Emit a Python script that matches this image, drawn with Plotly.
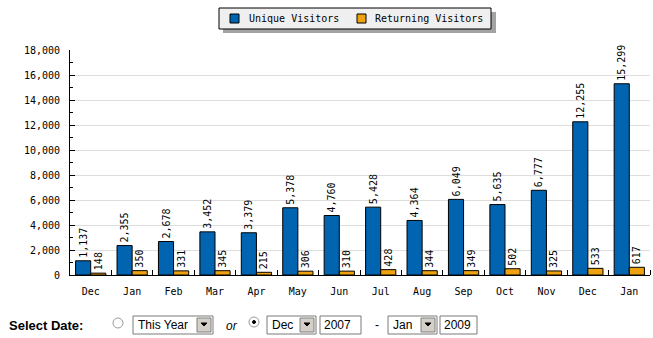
import plotly.graph_objects as go

months = ["Dec", "Jan", "Feb", "Mar", "Apr", "May", "Jun", "Jul", "Aug", "Sep", "Oct", "Nov", "Dec", "Jan"]
unique_visitors = [1137, 2355, 2678, 3452, 3379, 5378, 4760, 5428, 4364, 6049, 5635, 6777, 12255, 15299]
returning_visitors = [148, 350, 331, 345, 215, 306, 310, 428, 344, 349, 502, 325, 533, 617]
y_ticks = list(range(0, 18001, 2000))

W, H = 653, 338
ML, MR, MT, MB = 70, 3, 50, 63
PW, PH = W - ML - MR, H - MT - MB

def px(x):
    return (x - ML) / PW

def py(y):
    return (H - MB - y) / PH

MONO = "DejaVu Sans Mono"
UI = "Liberation Sans"
BLUE = "#0064b0"
ORANGE = "#eea20f"

xs = list(range(len(months)))

series = [("Unique Visitors", unique_visitors, BLUE), ("Returning Visitors", returning_visitors, ORANGE)]

fig = go.Figure()
for name, vals, col in series:
    fig.add_trace(go.Bar(
        x=xs, y=vals, name=name,
        marker=dict(color=col, line=dict(color="#000000", width=1)),
        text=[f"{v:,}" for v in vals], textposition="outside",
        textangle=-90, constraintext="none", cliponaxis=False,
        textfont=dict(family=MONO, size=10, color="#000000"),
        showlegend=False,
    ))

shapes = []
annotations = []

def rect(x0, y0, x1, y1, fill, line_color=None, lw=1):
    shapes.append(dict(type="rect", xref="paper", yref="paper", x0=px(x0), x1=px(x1),
                       y0=py(y1), y1=py(y0), fillcolor=fill,
                       line=dict(color=line_color or fill, width=lw if line_color else 0),
                       layer="above"))

def label(x, y, text, family, size, anchor="left"):
    annotations.append(dict(xref="paper", yref="paper", x=px(x), y=py(y), text=text,
                            showarrow=False, xanchor=anchor, yanchor="middle",
                            font=dict(family=family, size=size, color="#000000")))

# manual legend (box, shadow, swatches, names)
rect(223, 12, 496, 33, "#a3a3a3")
rect(219, 8, 491, 29, "#efefef", "#000000")
leg_pos = [(230, 247), (357, 373)]
for (sx, tx), (name, _, col) in zip(leg_pos, series):
    rect(sx, 14, sx + 9, 23, col, "#000000")
    label(tx, 18.5, name, MONO, 10)

def select_box(x0, x1, text):
    y0, y1 = 316, 334
    rect(x0, y0, x1, y1, "#ffffff", "#7a7a7a")
    bx0, bx1 = x1 - 16, x1 - 2
    rect(bx0, y0 + 2, bx1, y1 - 2, "#d4d0c8", "#808080")
    cx = (bx0 + bx1) / 2
    shapes.append(dict(type="path", xref="paper", yref="paper",
                       path=f"M {px(cx-3)} {py(323)} L {px(cx+3)} {py(323)} L {px(cx)} {py(326)} Z",
                       fillcolor="#000000", line=dict(color="#000000", width=1), layer="above"))
    label(x0 + 3, 325, text, UI, 12)

def text_box(x0, x1, text):
    rect(x0, 316, x1, 334, "#ffffff", "#7a7a7a")
    label(x0 + 2, 325, text, UI, 12)

def radio(cx, cy, checked):
    r = 5
    shapes.append(dict(type="circle", xref="paper", yref="paper",
                       x0=px(cx - r), x1=px(cx + r), y0=py(cy + r), y1=py(cy - r),
                       fillcolor="#ffffff", line=dict(color="#9a9a9a", width=1), layer="above"))
    if checked:
        shapes.append(dict(type="circle", xref="paper", yref="paper",
                           x0=px(cx - 1.5), x1=px(cx + 1.5), y0=py(cy + 1.5), y1=py(cy - 1.5),
                           fillcolor="#000000", line=dict(color="#000000", width=1), layer="above"))

label(7, 325, "<b>Select Date:</b>", UI, 13)
radio(118, 323, False)
select_box(133, 213, "This Year")
label(224, 326, "<i>or</i>", UI, 12)
radio(254, 322, True)
select_box(267, 316, "Dec")
text_box(320, 361, "2007")
label(377, 325, "-", UI, 12, "center")
select_box(388, 437, "Jan")
text_box(440, 477, "2009")

fig.update_layout(
    width=W, height=H,
    margin=dict(l=ML, r=MR, t=MT, b=MB, pad=0),
    paper_bgcolor="#ffffff", plot_bgcolor="#ffffff",
    barmode="group", bargap=0.27, bargroupgap=0,
    font=dict(family=MONO, size=10, color="#000000"),
    showlegend=False,
    shapes=shapes,
    annotations=annotations,
    xaxis=dict(
        tickmode="array", tickvals=xs, ticktext=months, range=[-0.5, len(months) - 0.5],
        ticks="", showgrid=False, zeroline=False,
        showline=True, linecolor="#000000", linewidth=1,
        tickfont=dict(family=MONO, size=10, color="#000000"),
        ticklabelstandoff=7,
        minor=dict(tickmode="array", tickvals=[i + 0.5 for i in xs],
                   ticks="inside", ticklen=5, tickcolor="#000000", showgrid=False),
        fixedrange=True,
    ),
    yaxis=dict(
        range=[0, 18000], tickmode="array", tickvals=y_ticks,
        tickformat=",", showgrid=True, gridcolor="#dddddd", gridwidth=1,
        zeroline=False, showline=True, linecolor="#000000", linewidth=1,
        ticks="inside", ticklen=5, tickcolor="#000000",
        minor=dict(dtick=1000, ticks="inside", ticklen=3, tickcolor="#000000", showgrid=False),
        tickfont=dict(family=MONO, size=10, color="#000000"),
        ticklabelstandoff=7,
        fixedrange=True,
    ),
)

fig.write_html("out.html", config={"displayModeBar": False})
